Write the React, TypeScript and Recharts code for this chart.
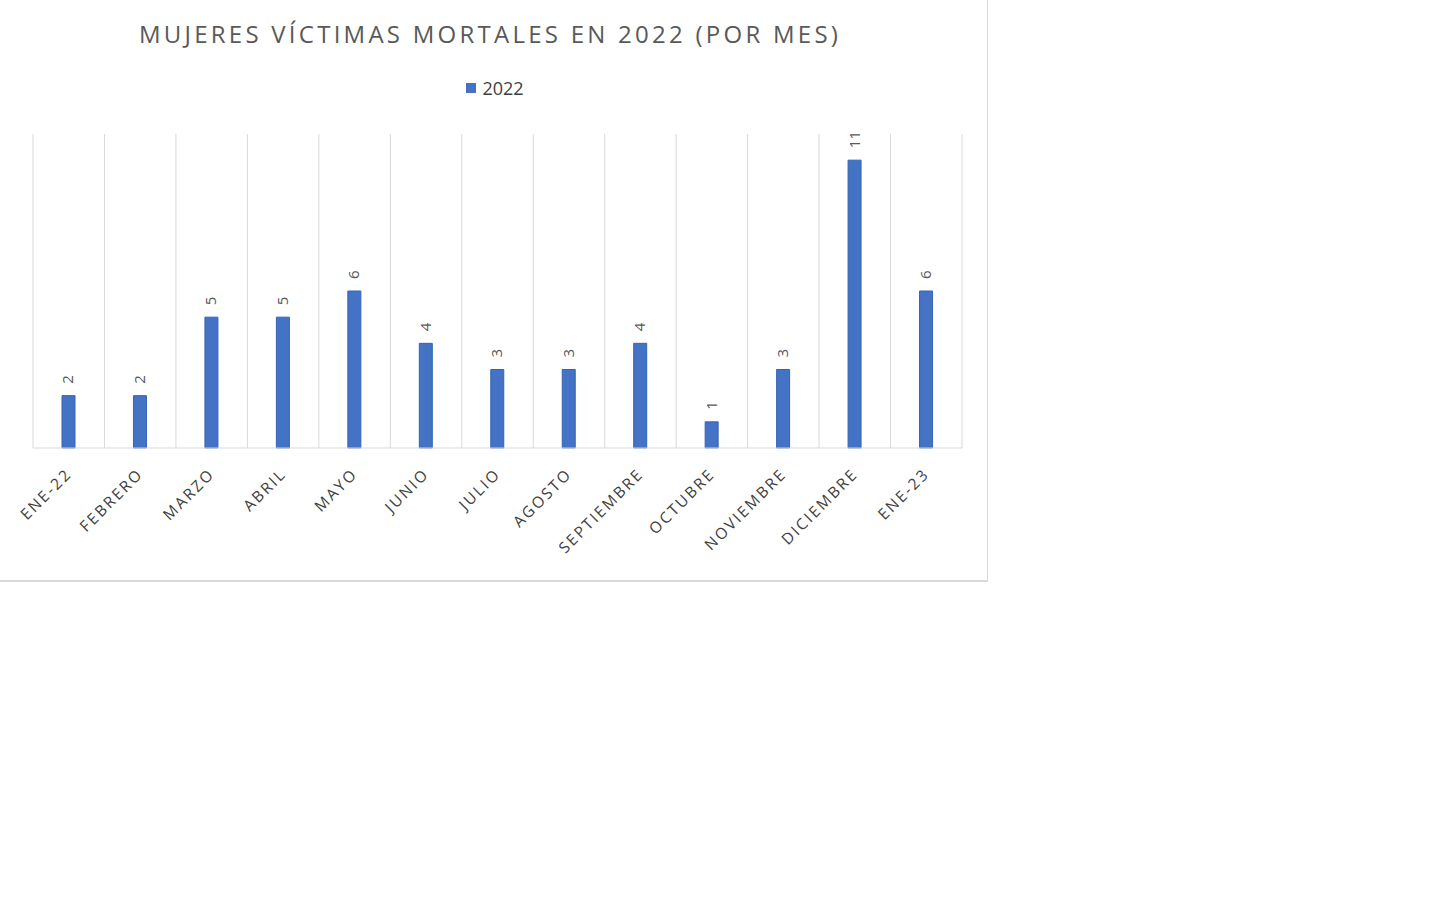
import { Bar, BarChart, LabelList, ReferenceLine, XAxis, YAxis } from "recharts";

const months = [
  "ENE-22",
  "FEBRERO",
  "MARZO",
  "ABRIL",
  "MAYO",
  "JUNIO",
  "JULIO",
  "AGOSTO",
  "SEPTIEMBRE",
  "OCTUBRE",
  "NOVIEMBRE",
  "DICIEMBRE",
  "ENE-23",
];
const victims2022 = [2, 2, 5, 5, 6, 4, 3, 3, 4, 1, 3, 11, 6];

const title = "MUJERES VÍCTIMAS MORTALES EN 2022 (POR MES)";
const seriesName = "2022";

const BLUE = "#4472C4";
const GRID = "#d9d9d9";
const FONT = "'Open Sans', 'Noto Sans', sans-serif";

function MonthTick(props: any) {
  const { x, y, payload } = props;
  const ax = x + 4;
  const ay = y + 19;
  return (
    <text
      x={ax}
      y={ay}
      transform={`rotate(-45 ${ax} ${ay})`}
      textAnchor="end"
      fill="#404040"
      fontSize={15.5}
      letterSpacing={2.2}
      fontFamily={FONT}
    >
      {payload.value}
    </text>
  );
}

function ValueLabel(props: any) {
  const { x, y, width, value } = props;
  const cx = x + width / 2 + 5;
  const cy = y - 12;
  return (
    <text
      x={cx}
      y={cy}
      transform={`rotate(-90 ${cx} ${cy})`}
      textAnchor="start"
      fill="#595959"
      fontSize={15}
      fontFamily={FONT}
    >
      {value}
    </text>
  );
}

export default function App() {
  const data = months.map((m, i) => ({ mes: m, v: victims2022[i] }));
  const last = months[months.length - 1];

  return (
    <div
      style={{
        position: "absolute",
        left: 0,
        top: 0,
        width: 987,
        height: 580,
        background: "#fff",
        borderRight: "1px solid #d9d9d9",
        borderBottom: "2px solid #d9d9d9",
        fontFamily: FONT,
      }}
    >
      <div
        style={{
          position: "absolute",
          top: 18,
          left: 0,
          width: 980,
          textAlign: "center",
          fontSize: 24,
          letterSpacing: 3.25,
          color: "#595959",
          lineHeight: "32px",
        }}
      >
        {title}
      </div>
      <div
        style={{
          position: "absolute",
          top: 76,
          left: 0,
          width: 990,
          display: "flex",
          justifyContent: "center",
          alignItems: "center",
          fontSize: 18,
          color: "#404040",
          lineHeight: "24px",
        }}
      >
        <span style={{ display: "inline-block", width: 10, height: 10, background: BLUE, marginRight: 6 }} />
        {seriesName}
      </div>
      <BarChart
        width={987}
        height={580}
        data={data}
        margin={{ top: 134, right: 25, left: 33, bottom: 102 }}
        barSize={13}
      >
        <XAxis
          dataKey="mes"
          height={30}
          interval={0}
          tickLine={false}
          axisLine={{ stroke: GRID }}
          tick={<MonthTick />}
        />
        <YAxis hide domain={[0, 12]} />
        {/* vertical separators on the category boundaries */}
        {months.map((m) => (
          <ReferenceLine key={m} x={m} position="start" stroke={GRID} ifOverflow="visible" />
        ))}
        <ReferenceLine x={last} position="end" stroke={GRID} ifOverflow="visible" />
        <Bar dataKey="v" name={seriesName} fill={BLUE} stroke="#3563b5" strokeWidth={1} isAnimationActive={false}>
          <LabelList dataKey="v" content={<ValueLabel />} />
        </Bar>
      </BarChart>
    </div>
  );
}
